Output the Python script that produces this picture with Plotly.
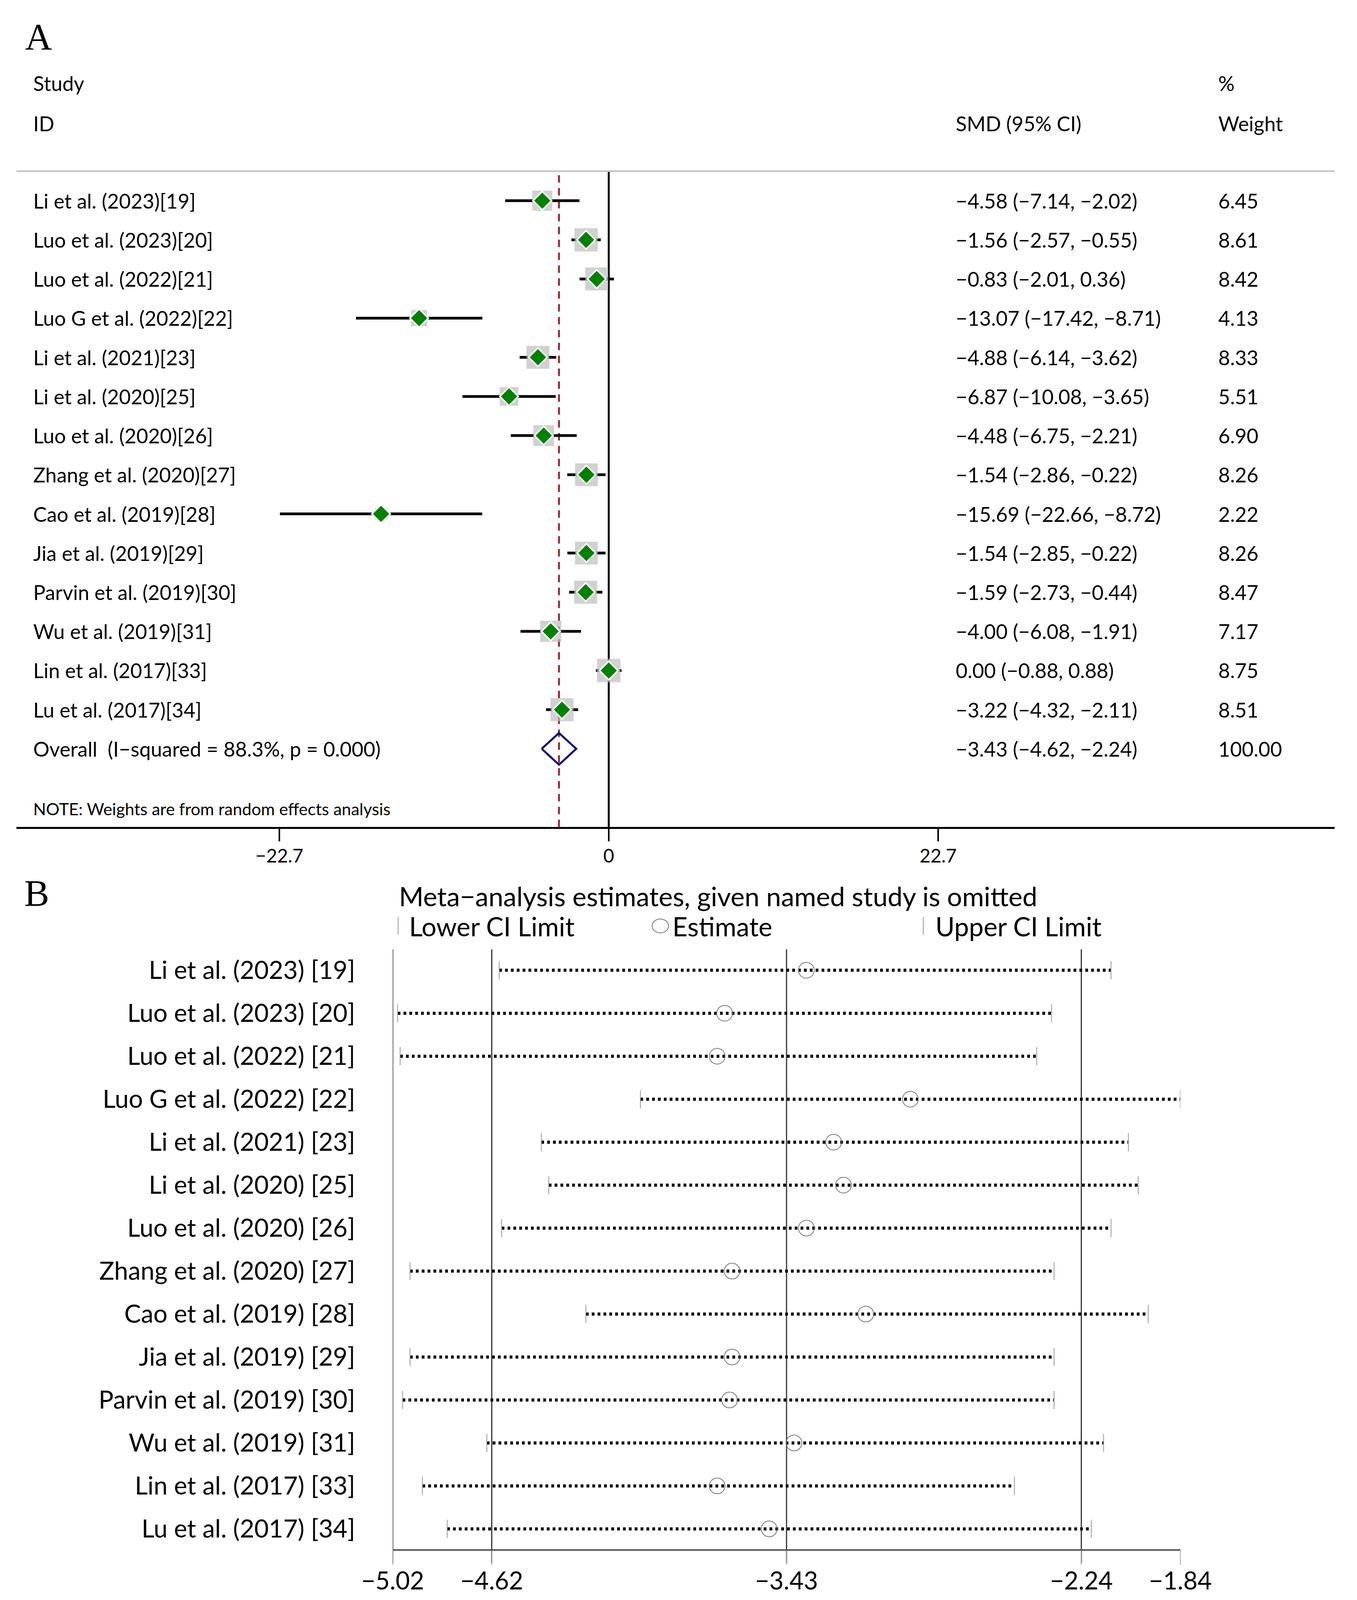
import plotly.graph_objects as go

# reference is 3473 x 4840; the browser viewport is only 3473 x 4096,
# so the figure fills the viewport and reference positions are kept as fractions
REF_W, REF_H = 3473, 4840
VIEW_W, VIEW_H = 3473, 4096
BODY = 8                   # default page margin around the plot div
W, H = VIEW_W - BODY, VIEW_H - BODY
SX = VIEW_W / REF_W
SY = VIEW_H / REF_H
SM = 0.96                  # marker size compromise between SX and SY

# ---- panel A: forest plot data ----
studies_a = ["Li et al. (2023)[19]", "Luo et al. (2023)[20]", "Luo et al. (2022)[21]",
             "Luo G et al. (2022)[22]", "Li et al. (2021)[23]", "Li et al. (2020)[25]",
             "Luo et al. (2020)[26]", "Zhang et al. (2020)[27]", "Cao et al. (2019)[28]",
             "Jia et al. (2019)[29]", "Parvin et al. (2019)[30]", "Wu et al. (2019)[31]",
             "Lin et al. (2017)[33]", "Lu et al. (2017)[34]"]
smd = [-4.58, -1.56, -0.83, -13.07, -4.88, -6.87, -4.48, -1.54, -15.69, -1.54, -1.59, -4.00, 0.00, -3.22]
ci_lo = [-7.14, -2.57, -2.01, -17.42, -6.14, -10.08, -6.75, -2.86, -22.66, -2.85, -2.73, -6.08, -0.88, -4.32]
ci_hi = [-2.02, -0.55, 0.36, -8.71, -3.62, -3.65, -2.21, -0.22, -8.72, -0.22, -0.44, -1.91, 0.88, -2.11]
weight = [6.45, 8.61, 8.42, 4.13, 8.33, 5.51, 6.90, 8.26, 2.22, 8.26, 8.47, 7.17, 8.75, 8.51]
overall = -3.43
overall_lo, overall_hi = -4.62, -2.24
overall_weight = 100.00
i_squared, p_het = 88.3, 0.000
ticks_a = [-22.7, 0, 22.7]
ticklabels_a = ["\u221222.7", "0", "22.7"]

# ---- panel B: leave-one-out sensitivity data ----
studies_b = ["Li et al. (2023) [19]", "Luo et al. (2023) [20]", "Luo et al. (2022) [21]",
             "Luo G et al. (2022) [22]", "Li et al. (2021) [23]", "Li et al. (2020) [25]",
             "Luo et al. (2020) [26]", "Zhang et al. (2020) [27]", "Cao et al. (2019) [28]",
             "Jia et al. (2019) [29]", "Parvin et al. (2019) [30]", "Wu et al. (2019) [31]",
             "Lin et al. (2017) [33]", "Lu et al. (2017) [34]"]
loo_est = [-3.35, -3.68, -3.71, -2.93, -3.24, -3.20, -3.35, -3.65, -3.11, -3.65, -3.66, -3.40, -3.71, -3.50]
loo_lo = [-4.59, -5.00, -4.99, -4.02, -4.42, -4.39, -4.58, -4.95, -4.24, -4.95, -4.98, -4.64, -4.90, -4.80]
loo_hi = [-2.12, -2.36, -2.42, -1.84, -2.05, -2.01, -2.12, -2.35, -1.97, -2.35, -2.35, -2.15, -2.51, -2.20]
ticks_b = [-5.02, -4.62, -3.43, -2.24, -1.84]
ref_b = [-5.02, -4.62, -3.43, -2.24]

SANS = "Lato"
SERIF = "Liberation Serif"
FA = 52   # panel A text size
FB = 64   # panel B text size


def px(x):
    # reference pixel column -> paper fraction
    return (x * SX - BODY) / W


def py(y):
    # reference pixel row -> paper fraction
    return 1 - (y * SY - BODY) / H


def m(v):
    return f"{v:.2f}".replace("-", "\u2212")


n = len(studies_a)
rows = list(range(n))

fig = go.Figure()

# CI lines
xs, ys = [], []
for i in rows:
    xs += [ci_lo[i], ci_hi[i], None]
    ys += [i, i, None]
fig.add_trace(go.Scatter(x=xs, y=ys, mode="lines", line=dict(color="black", width=7),
                         xaxis="x", yaxis="y", showlegend=False, hoverinfo="skip"))
# weight boxes (area ~ weight)
fig.add_trace(go.Scatter(x=smd, y=rows, mode="markers",
                         marker=dict(symbol="square", color="#bebebe",
                                     size=[21.1 * SM * w ** 0.5 for w in weight], line=dict(width=0)),
                         xaxis="x", yaxis="y", showlegend=False))
# point estimates
fig.add_trace(go.Scatter(x=smd, y=rows, mode="markers",
                         marker=dict(symbol="diamond", color="#008000", size=38 * SM,
                                     line=dict(color="white", width=4)),
                         xaxis="x", yaxis="y", showlegend=False))
# overall diamond
h = 0.405
fig.add_trace(go.Scatter(x=[overall_lo, overall, overall_hi, overall, overall_lo],
                         y=[n, n - h, n, n + h, n], mode="lines",
                         line=dict(color="#000080", width=5),
                         xaxis="x", yaxis="y", showlegend=False))

# panel B
xs, ys = [], []
for i in rows:
    xs += [loo_lo[i], loo_hi[i], None]
    ys += [i, i, None]
fig.add_trace(go.Scatter(x=xs, y=ys, mode="lines", line=dict(color="black", width=8, dash="7px,8px"),
                         xaxis="x2", yaxis="y2", showlegend=False))
fig.add_trace(go.Scatter(x=loo_lo + loo_hi, y=rows + rows, mode="markers",
                         marker=dict(symbol="line-ns", size=55 * SY / 1.4, color="#999999",
                                     line=dict(color="#999999", width=2)),
                         xaxis="x2", yaxis="y2", showlegend=False))
fig.add_trace(go.Scatter(x=loo_est, y=rows, mode="markers",
                         marker=dict(symbol="circle-open", size=42 * SM, color="#777777",
                                     line=dict(color="#777777", width=2)),
                         xaxis="x2", yaxis="y2", showlegend=False))

ann = []


def txt(x, y, t, size, yref="paper", anchor="left", family=None):
    f = dict(size=size)
    if family:
        f["family"] = family
    ann.append(dict(x=x, y=y, xref="paper", yref=yref, text=t, xanchor=anchor,
                    yanchor="middle", showarrow=False, font=f))


# panel A text columns
for i in rows:
    txt(px(83), i, studies_a[i], FA, "y")
    txt(px(2444), i, f"{m(smd[i])} ({m(ci_lo[i])}, {m(ci_hi[i])})", FA, "y")
    txt(px(3116), i, f"{weight[i]:.2f}", FA, "y")
txt(px(83), n, f"Overall  (I\u2212squared = {i_squared:.1f}%, p = {p_het:.3f})", FA, "y")
txt(px(2444), n, f"{m(overall)} ({m(overall_lo)}, {m(overall_hi)})", FA, "y")
txt(px(3116), n, f"{overall_weight:.2f}", FA, "y")

for t, x, y in [("Study", 83, 252), ("ID", 83, 373), ("SMD (95% CI)", 2444, 373),
                ("%", 3116, 252), ("Weight", 3116, 373)]:
    txt(px(x), py(y), t, FA)
txt(px(83), py(2446), "NOTE: Weights are from random effects analysis", 43)

txt(px(62), py(112), "A", 96, family=SERIF)
txt(px(60), py(2702), "B", 96, family=SERIF)

txt(px(1838), py(2710), "Meta\u2212analysis estimates, given named study is omitted", 68, anchor="center")
for t, x in [("Lower CI Limit", 1045), ("Estimate", 1719), ("Upper CI Limit", 2392)]:
    txt(px(x), py(2802), t, 67)

shapes = [
    # top rule of panel A
    dict(type="line", xref="paper", yref="paper", x0=px(42), x1=px(3416), y0=py(518), y1=py(518),
         line=dict(color="#c0c0c0", width=4)),
    # null line
    dict(type="line", xref="x", yref="y domain", x0=0, x1=0, y0=0, y1=1,
         line=dict(color="black", width=5), layer="below"),
    # overall effect line
    dict(type="line", xref="x", yref="y domain", x0=overall, x1=overall, y0=0, y1=1,
         line=dict(color="#9e2a2f", width=5, dash="19px,14px"), layer="below"),
    # legend symbols of panel B
    dict(type="line", xref="paper", yref="paper", x0=px(1019), x1=px(1019), y0=py(2774), y1=py(2828),
         line=dict(color="#999999", width=2)),
    dict(type="line", xref="paper", yref="paper", x0=px(2363), x1=px(2363), y0=py(2774), y1=py(2828),
         line=dict(color="#999999", width=2)),
    dict(type="circle", xref="paper", yref="paper", x0=px(1669), x1=px(1711), y0=py(2780), y1=py(2822),
         line=dict(color="#777777", width=2)),
]
for v in ref_b:
    shapes.append(dict(type="line", xref="x2", yref="y2 domain", x0=v, x1=v, y0=-0.0232, y1=1,
                       line=dict(color="#333333", width=3), layer="below"))

fig.update_layout(
    width=W, height=H, autosize=False,
    margin=dict(l=0, r=0, t=0, b=0, pad=0),
    paper_bgcolor="white", plot_bgcolor="rgba(0,0,0,0)",
    font=dict(family=SANS, color="black", size=FA),
    showlegend=False,
    annotations=ann, shapes=shapes,
    xaxis=dict(domain=[px(42), px(3416)], range=[-40.82, 50.03], anchor="y", automargin=False,
               tickvals=ticks_a, ticktext=ticklabels_a,
               ticks="outside", ticklen=round(38 * SY), tickwidth=4, tickcolor="black",
               showline=True, linecolor="black", linewidth=5, ticklabelstandoff=-4,
               showgrid=False, zeroline=False, tickfont=dict(size=48)),
    yaxis=dict(domain=[py(2502), py(518)], range=[16.0, -0.752], anchor="x", automargin=False,
               visible=False, showgrid=False, zeroline=False),
    xaxis2=dict(domain=[px(1005), px(3021)], range=[-5.02, -1.84], anchor="y2", automargin=False,
                tickvals=ticks_b, ticktext=[m(t) for t in ticks_b],
                ticks="outside", ticklen=round(42 * SY), tickwidth=2, tickcolor="#aaaaaa",
                showline=True, linecolor="#555555", linewidth=4, ticklabelstandoff=-12,
                showgrid=False, zeroline=False, tickfont=dict(size=63)),
    yaxis2=dict(domain=[py(4686), py(2872)], range=[13.47, -0.485], anchor="x2", automargin=False,
                tickvals=rows, ticktext=studies_b, ticks="", showline=False,
                showgrid=False, zeroline=False, ticklabelstandoff=95,
                tickfont=dict(size=FB)),
)

fig.write_html("out.html")
